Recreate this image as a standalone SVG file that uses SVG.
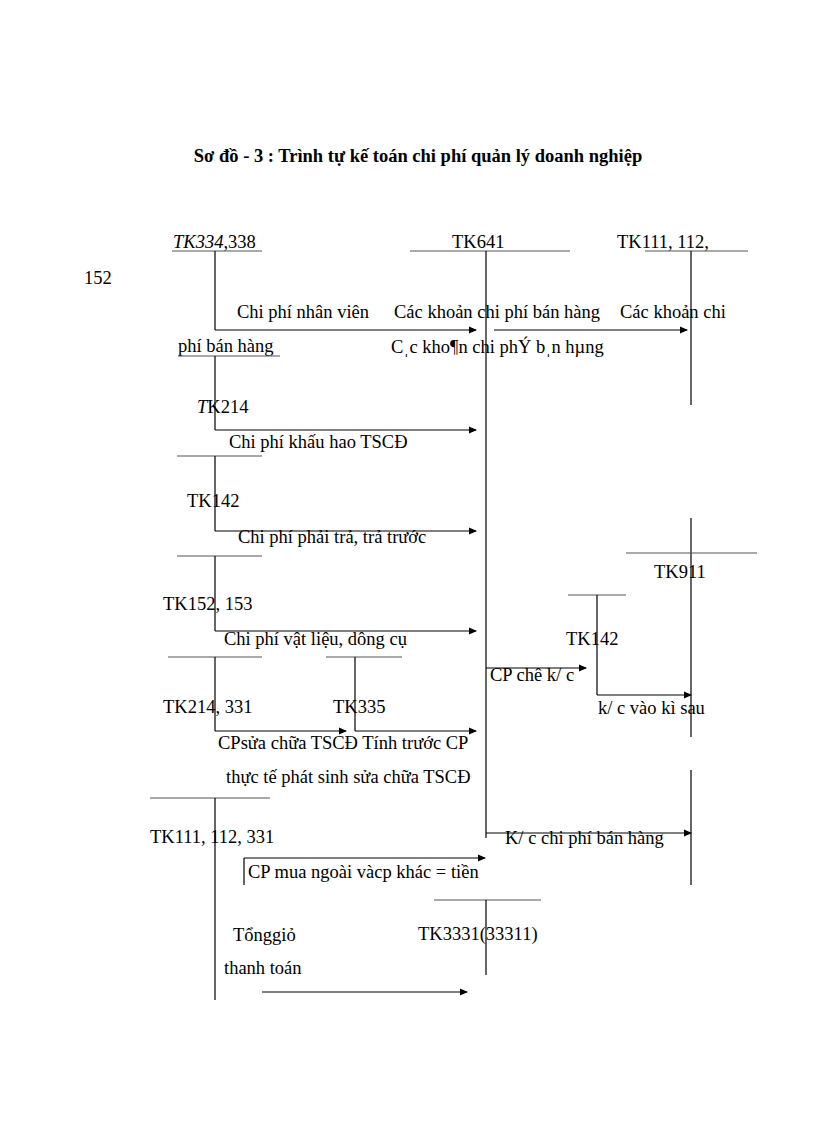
<svg xmlns="http://www.w3.org/2000/svg" width="816" height="1123" viewBox="0 0 816 1123">
<style>
text{font-family:"Liberation Serif",serif;font-size:18.5px;fill:#000}
.t{font-weight:bold;font-size:18.5px}
line{stroke:#000;stroke-width:1.2}
.a{marker-end:url(#ar)}
.g{stroke:#555}
</style>
<defs><marker id="ar" markerWidth="8" markerHeight="8" refX="7" refY="4" orient="auto" markerUnits="userSpaceOnUse"><path d="M0,0.5 L8,4 L0,7.5z" fill="#000"/></marker></defs>
<rect width="816" height="1123" fill="#fff"/>
<text class="t" x="418" y="162" text-anchor="middle">Sơ đồ - 3 : Trình tự kế toán chi phí quản lý doanh nghiệp</text>
<g id="tk334"><text x="173" y="248"><tspan font-style="italic">TK334</tspan>,338</text><line class="g" x1="172" y1="251" x2="262" y2="251"/><line x1="215" y1="251" x2="215" y2="330"/><text x="84" y="284">152</text></g>
<g id="tk641"><text x="452" y="248">TK641</text><line class="g" x1="410" y1="251" x2="570" y2="251"/><line x1="486" y1="251" x2="486" y2="838"/></g>
<g id="tk111a"><text x="617" y="248">TK111, 112,</text><line class="g" x1="645" y1="251" x2="748" y2="251"/><line x1="691" y1="251" x2="691" y2="405"/></g>
<g id="tk_pbh"><text x="178" y="352">phí bán hàng</text><line class="g" x1="178" y1="356" x2="280" y2="356"/><line x1="215" y1="356" x2="215" y2="430"/></g>
<g id="tk214"><text x="197" y="413"><tspan font-style="italic">T</tspan>K214</text><line class="g" x1="177" y1="456" x2="262" y2="456"/><line x1="215" y1="456" x2="215" y2="531"/></g>
<g id="tk142"><text x="187" y="507">TK142</text><line class="g" x1="177" y1="556" x2="262" y2="556"/><line x1="215" y1="556" x2="215" y2="631"/></g>
<g id="tk152"><text x="163" y="610">TK152, 153</text><line class="g" x1="168" y1="657" x2="262" y2="657"/><line x1="215" y1="657" x2="215" y2="731"/></g>
<g id="tk214b"><text x="163" y="713">TK214, 331</text></g>
<g id="tk335"><line class="g" x1="326" y1="657" x2="402" y2="657"/><line x1="355" y1="657" x2="355" y2="731"/><text x="333" y="713">TK335</text></g>
<g id="tk911"><line x1="691" y1="518" x2="691" y2="737"/><line class="g" x1="626" y1="553" x2="757" y2="553"/><text x="654" y="578">TK911</text><line x1="691" y1="770" x2="691" y2="885"/></g>
<g id="tk142b"><line class="g" x1="568" y1="595" x2="626" y2="595"/><line x1="597" y1="595" x2="597" y2="695"/><text x="566" y="645">TK142</text></g>
<g id="tk111b"><line class="g" x1="150" y1="798" x2="270" y2="798"/><line x1="215" y1="798" x2="215" y2="1000"/><text x="150" y="843">TK111, 112, 331</text></g>
<g id="tk3331"><line class="g" x1="434" y1="900" x2="541" y2="900"/><line x1="486" y1="900" x2="486" y2="975"/><text x="418" y="940">TK3331(33311)</text></g>
<g id="connectors">
<line class="a" x1="215" y1="330" x2="476" y2="330"/>
<line class="a" x1="494" y1="330" x2="687" y2="330"/>
<line class="a" x1="215" y1="430" x2="476" y2="430"/>
<line class="a" x1="215" y1="531" x2="476" y2="531"/>
<line class="a" x1="215" y1="631" x2="476" y2="631"/>
<line class="a" x1="215" y1="731" x2="346" y2="731"/>
<line class="a" x1="355" y1="731" x2="476" y2="731"/>
<line class="a" x1="486" y1="668" x2="586" y2="668"/>
<line class="a" x1="597" y1="695" x2="691" y2="695"/>
<line class="a" x1="486" y1="833" x2="691" y2="833"/>
<line x1="244" y1="858" x2="244" y2="885"/>
<line class="a" x1="244" y1="858" x2="485" y2="858"/>
<line class="a" x1="262" y1="992" x2="467" y2="992"/>
</g>
<g id="labels">
<text x="237" y="318">Chi phí nhân viên</text>
<text x="394" y="318">Các khoản chi phí bán hàng</text>
<text x="620" y="318">Các khoản chi</text>
<text x="391" y="353">Cˌc kho¶n chi phÝ bˌn hµng</text>
<text x="229" y="448">Chi phí khấu hao TSCĐ</text>
<text x="238" y="543">Chi phí phải trả, trả trước</text>
<text x="224" y="645">Chi phí vật liệu,  dông cụ</text>
<text x="490" y="681">CP chê k/ c</text>
<text x="598" y="714">k/  c vào kì sau</text>
<text x="218" y="749">CPsửa chữa TSCĐ Tính trước CP</text>
<text x="226" y="783">thực tế phát sinh sửa chữa TSCĐ</text>
<text x="505" y="844">K/ c chi phí bán hàng</text>
<text x="248" y="878">CP mua ngoài vàcp khác = tiền</text>
<text x="233" y="941">Tổnggiỏ</text>
<text x="224" y="974">thanh toán</text>
</g>
</svg>
